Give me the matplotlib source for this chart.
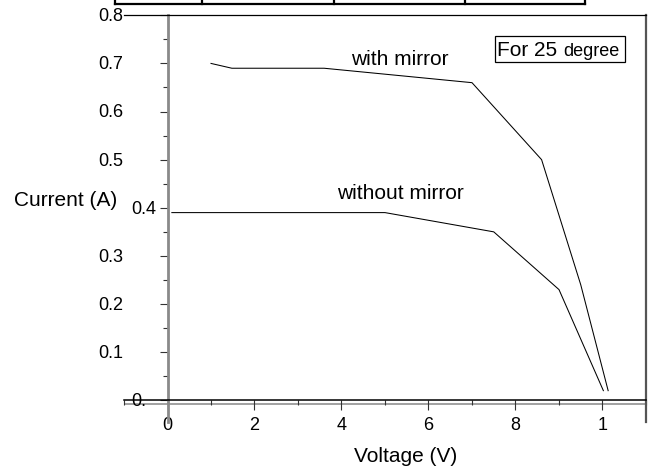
import numpy as np
import matplotlib
matplotlib.use("Agg")
import matplotlib.pyplot as plt
from matplotlib.lines import Line2D
from matplotlib.patches import Rectangle
import matplotlib.transforms as mtransforms

# I-V curves
with_v = [1.0, 1.48, 3.6, 7.0, 8.6, 9.5, 10.13]
with_i = [0.70, 0.69, 0.69, 0.66, 0.50, 0.24, 0.02]
without_v = [0.1, 5.0, 7.5, 9.0, 10.02]
without_i = [0.39, 0.39, 0.35, 0.23, 0.02]

x_ticks = [0, 2, 4, 6, 8, 10]
x_tick_labels = ["0", "2", "4", "6", "8", "1"]
y_ticks = [0.0, 0.1, 0.2, 0.3, 0.4, 0.5, 0.6, 0.7, 0.8]
y_tick_labels = ["0.", "0.1", "0.2", "0.3", "0.4", "0.5", "0.6", "0.7", "0.8"]

plt.rcParams["font.family"] = ["Liberation Sans", "DejaVu Sans"]

W, H = 649, 468
fig = plt.figure(figsize=(W / 100, H / 100), dpi=100)

# axes box in pixels: left 124, right 646, top 15, bottom 422
ax = fig.add_axes([124 / W, (H - 421.7) / H, (646 - 124) / W, (421.7 - 15.3) / H])
ax.set_xlim(-1, 11)
ax.set_ylim(-0.0445, 0.8)

ax.plot(with_v, with_i, color="black", lw=0.75)
ax.plot(without_v, without_i, color="black", lw=0.75)

# maple style axes through the origin
ax.spines["left"].set_position(("data", 0))
ax.spines["left"].set_color("#8a8a8a")
ax.spines["left"].set_linewidth(2.0)
ax.spines["bottom"].set_position(("data", 0))
ax.spines["bottom"].set_color("black")
ax.spines["bottom"].set_linewidth(1.1)
ax.spines["top"].set_linewidth(0.9)
ax.spines["right"].set_color("#555555")
ax.spines["right"].set_linewidth(1.6)
ax.axhline(-0.007, color="#9a9a9a", lw=1.3, zorder=1)

ax.set_xticks(x_ticks)
ax.set_xticklabels(x_tick_labels, fontsize=13)
ax.set_xticks(np.arange(-1, 12, 2), minor=True)
ax.tick_params(axis="x", which="major", direction="out", length=7.2, width=0.8,
               pad=5, color="#333333")
ax.tick_params(axis="x", which="minor", direction="out", length=3.6, width=0.8,
               color="#333333")

ax.set_yticks(y_ticks)
ax.set_yticklabels([])
ax.set_yticks(np.arange(0.05, 0.8, 0.1), minor=True)
ax.tick_params(axis="y", which="major", direction="out", length=5.8, width=0.8,
               color="#333333")
ax.tick_params(axis="y", which="minor", direction="out", length=3.6, width=0.8,
               color="#333333")

# y tick labels placed like the original (some pushed left)
trans = mtransforms.blended_transform_factory(fig.transFigure, ax.transData)
for v, lab in zip(y_ticks, y_tick_labels):
    left_px = 131 if lab in ("0.", "0.4") else 98
    ax.text(left_px / W, v - 0.003, lab, transform=trans, ha="left", va="center",
            fontsize=13, clip_on=False)

fig.text(66 / W, 1 - 201 / H, "Current (A)", ha="center", va="center", fontsize=15)
fig.text(406 / W, 1 - 456 / H, "Voltage (V)", ha="center", va="center", fontsize=15)

ax.text(5.35, 0.697, "with mirror", ha="center", va="baseline", fontsize=15)
ax.text(5.36, 0.418, "without mirror", ha="center", va="baseline", fontsize=15)

# "For 25 degree" box
ax.add_patch(Rectangle((7.52, 0.7036), 3.0, 0.0534, fill=False, ec="black", lw=0.9))
ax.text(7.57, 0.7155, "For 25", ha="left", va="baseline", fontsize=15)
ax.text(9.09, 0.7155, "degree", ha="left", va="baseline", fontsize=13)

# remnant of a table cut off at the top of the page
def px_line(xs, ys, lw):
    fig.add_artist(Line2D([x / W for x in xs], [1 - y / H for y in ys],
                          color="black", lw=lw, transform=fig.transFigure))

px_line([115, 585], [4.3, 4.3], 1.6)
for xv in [115, 202, 334, 465, 585]:
    px_line([xv, xv], [0, 4.3], 1.6)

fig.savefig("out.png", dpi=100)
